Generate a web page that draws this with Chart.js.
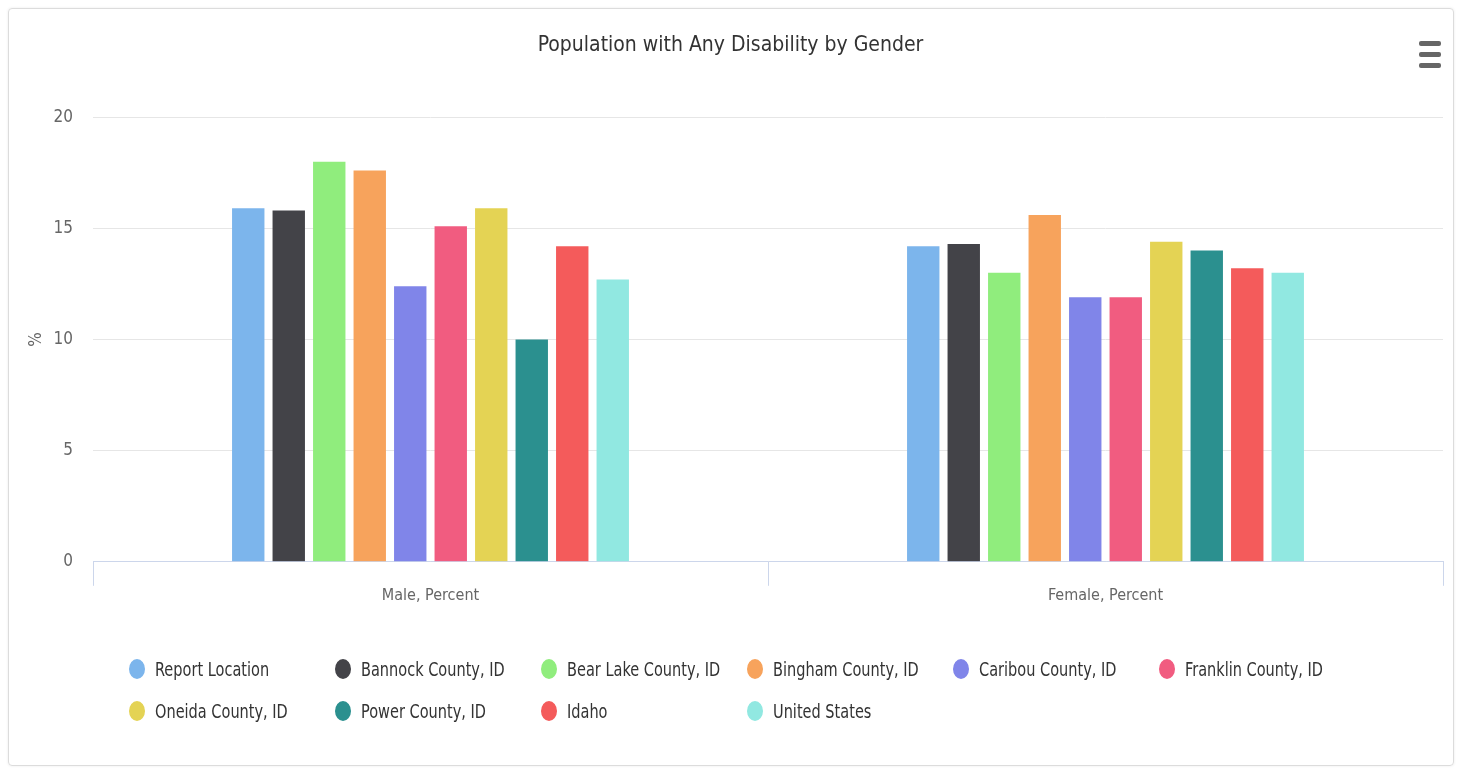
<!DOCTYPE html>
<html>
<head>
<meta charset="utf-8">
<script src="https://cdn.jsdelivr.net/npm/chart.js@4.4.1/dist/chart.umd.min.js"></script>
<style>
  html, body { margin: 0; padding: 0; background: #fff; }
  #frame {
    position: absolute; left: 8px; top: 8px; width: 1444px; height: 756px;
    border: 1px solid #dcdcdc; border-radius: 4px; box-shadow: 0 0 3px rgba(0,0,0,0.08);
  }
  #chart { position: absolute; left: 0; top: 0; }
  #menu { position: absolute; left: 1419px; top: 41px; width: 22px; }
  #menu div { height: 5px; background: #666; border-radius: 2px; margin-bottom: 6px; }
  #legend {
    position: absolute; left: 129px; top: 656px;
    display: grid; grid-template-columns: repeat(6, 206px); row-gap: 16px;
    font-family: 'Liberation Sans Narrow', 'DejaVu Sans Condensed', 'Roboto', sans-serif;
    font-size: 19px; color: #333;
  }
  .item { display: flex; align-items: center; height: 26px; white-space: nowrap; }
  .dot { width: 16px; height: 20px; border-radius: 50%; margin-right: 10px; flex: none; }
  .txt { display: inline-block; transform: scaleX(0.85); transform-origin: left center; }
</style>
</head>
<body>
<div id="frame"></div>
<canvas id="chart" width="1461" height="769"></canvas>
<div id="menu"><div></div><div></div><div></div></div>
<div id="legend"></div>
<script>
const categories = ['Male, Percent', 'Female, Percent'];
const seriesNames = [
  'Report Location', 'Bannock County, ID', 'Bear Lake County, ID', 'Bingham County, ID',
  'Caribou County, ID', 'Franklin County, ID', 'Oneida County, ID', 'Power County, ID',
  'Idaho', 'United States'
];
const seriesColors = [
  '#7cb5ec', '#434348', '#90ed7d', '#f7a35c', '#8085e9',
  '#f15c80', '#e4d354', '#2b908f', '#f45b5b', '#91e8e1'
];
const maleValues   = [15.9, 15.8, 18.0, 17.6, 12.4, 15.1, 15.9, 10.0, 14.2, 12.7];
const femaleValues = [14.2, 14.3, 13.0, 15.6, 11.9, 11.9, 14.4, 14.0, 13.2, 13.0];
const yTicks = [0, 5, 10, 15, 20];

const fontFamily = "'Liberation Sans Narrow', 'DejaVu Sans Condensed', 'Roboto', sans-serif";

const datasets = seriesNames.map((name, i) => ({
  label: name,
  data: [maleValues[i], femaleValues[i]],
  backgroundColor: seriesColors[i],
  borderWidth: 0,
  categoryPercentage: 0.6,
  barPercentage: 0.8
}));

const ctx = document.getElementById('chart').getContext('2d');
new Chart(ctx, {
  type: 'bar',
  data: { labels: categories, datasets: datasets },
  options: {
    responsive: false,
    animation: false,
    layout: { padding: { left: 18, right: 18, top: 0, bottom: 164 } },
    plugins: {
      legend: { display: false },
      title: {
        display: true,
        text: 'Population with Any Disability by Gender',
        color: '#333',
        font: { family: fontFamily, size: 21, weight: 'normal' },
        padding: { top: 33, bottom: 59 }
      }
    },
    scales: {
      x: {
        grid: { display: true, drawOnChartArea: false, tickLength: 24, color: '#ccd6eb', offset: true },
        border: { color: '#ccd6eb' },
        ticks: { color: '#666', font: { family: fontFamily, size: 16 }, padding: 0 }
      },
      y: {
        min: yTicks[0],
        max: yTicks[yTicks.length - 1],
        afterBuildTicks: scale => { scale.ticks = yTicks.map(v => ({ value: v })); },
        afterFit: scale => { scale.width = 75; },
        grid: { color: '#e6e6e6', drawTicks: false },
        border: { display: false },
        ticks: { color: '#666', font: { family: fontFamily, size: 17 }, padding: 20 },
        title: {
          display: true, text: '%', color: '#666',
          font: { family: fontFamily, size: 17 }, padding: { top: 8, bottom: 0 }
        }
      }
    }
  }
});

const legendEl = document.getElementById('legend');
seriesNames.forEach((name, i) => {
  const item = document.createElement('div');
  item.className = 'item';
  item.innerHTML = '<span class="dot" style="background:' + seriesColors[i] + '"></span><span class="txt">' + name + '</span>';
  legendEl.appendChild(item);
});
</script>
</body>
</html>
